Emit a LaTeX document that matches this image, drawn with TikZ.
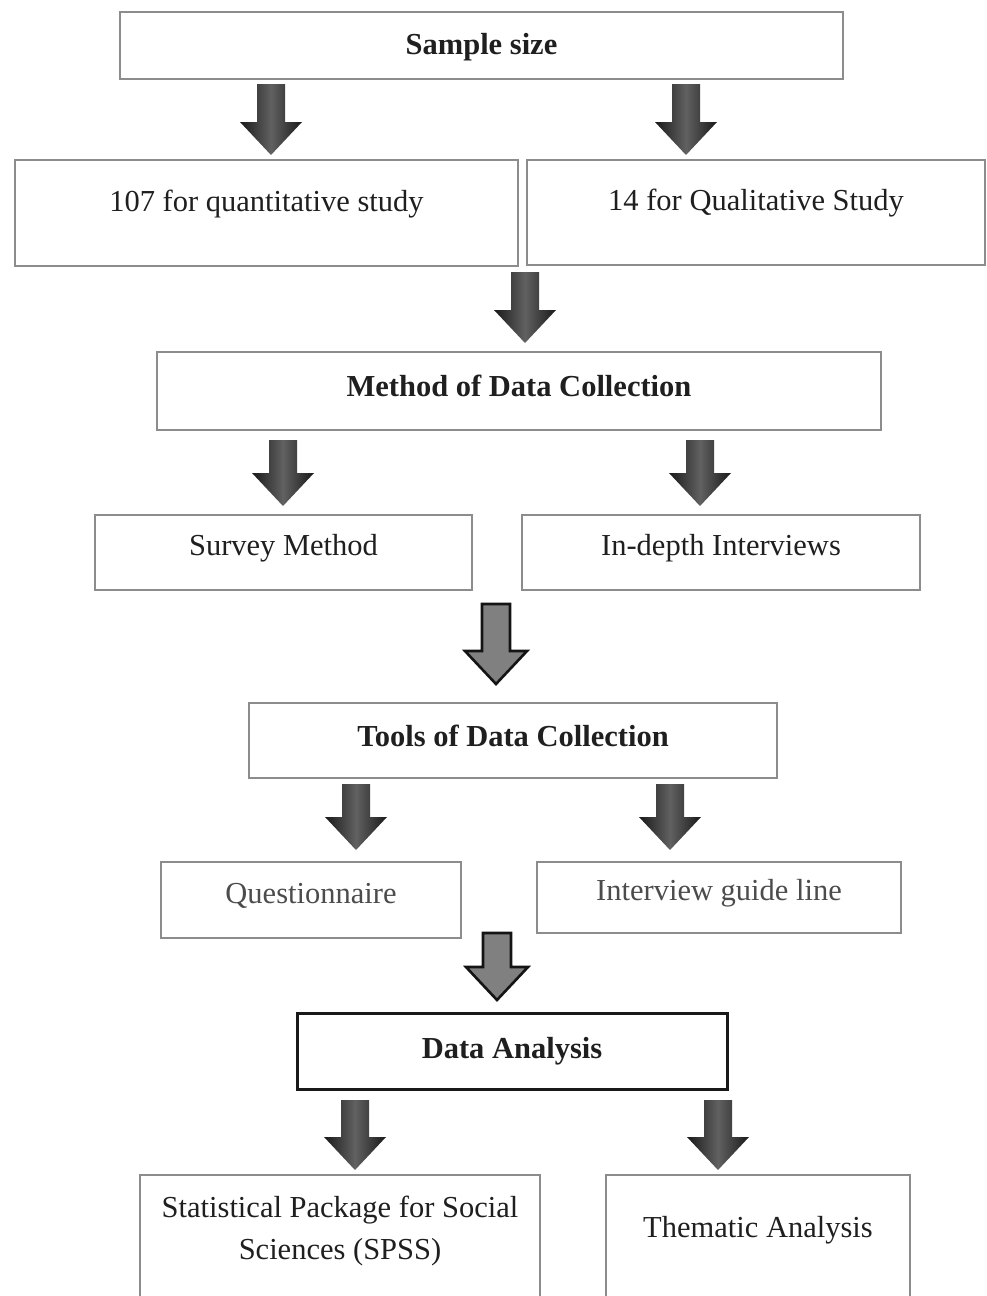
\documentclass[tikz,border=0pt]{standalone}
\usepackage{fontspec}
\setmainfont{Liberation Serif}
\begin{document}
\begin{tikzpicture}[x=1pt,y=-1pt,
  box/.style={draw=black!45, line width=2.2pt, fill=white, text=black!88,
    font=\fontsize{30.5}{42}\selectfont, text height=18pt, text depth=12pt,
    inner sep=0pt, align=center},
  strong/.style={box, draw=black!90, line width=3pt},
  raised/.style={text height=18pt, text depth=22pt},
  lowered/.style={text height=23pt, text depth=12pt},
  dimtext/.style={text=black!70},
  darkarrow/.style={left color=black!90, right color=black!90, middle color=black!62},
  greyarrow/.style={fill=black!50, draw=black!92, line width=2.6pt, line join=miter}
]
\useasboundingbox (0,0) rectangle (987,1296);
\fill[white] (0,0) rectangle (987,1296);

% block arrow pointing down: style, centre x, top y, tip y
\newcommand\downblock[4]{%
  \path[#1] (#2-14,#3) -- (#2+14,#3) -- (#2+14,#4-33) -- (#2+31,#4-33)
    -- (#2,#4) -- (#2-31,#4-33) -- (#2-14,#4-33) -- cycle;}

% boxes
\node[box, text height=30pt, minimum width=723pt, minimum height=67pt] (sample) at (481.5,45.5) {\textbf{Sample size}};
\node[box, raised, minimum width=503pt, minimum height=106pt] (quant) at (266.5,213) {107 for quantitative study};
\node[box, raised, minimum width=458pt, minimum height=105pt] (qual) at (756,212.5) {14 for Qualitative Study};
\node[box, lowered, minimum width=724pt, minimum height=78pt] (method) at (519,391) {\textbf{Method of Data Collection}};
\node[box, minimum width=377pt, minimum height=75pt] (survey) at (283.5,552.5) {Survey Method};
\node[box, minimum width=398pt, minimum height=75pt] (interv) at (721,552.5) {In-depth Interviews};
\node[box, text height=24pt, minimum width=528pt, minimum height=75pt] (tools) at (513,740.5) {\textbf{Tools of Data Collection}};
\node[box, dimtext, minimum width=300pt, minimum height=76pt] (quest) at (311,900) {Questionnaire};
\node[box, dimtext, minimum width=364pt, minimum height=71pt] (guide) at (719,897.5) {Interview guide line};
\node[strong, text height=26pt, minimum width=430pt, minimum height=76pt] (analysis) at (512,1051) {\textbf{Data Analysis}};
\node[box, text height=44pt, text depth=6pt, minimum width=400pt, minimum height=130pt] (spss) at (340,1240) {Statistical Package for Social\\Sciences (SPSS)};
\node[box, text height=36pt, text depth=42pt, minimum width=304pt, minimum height=130pt] (thematic) at (758,1240) {Thematic Analysis};

% arrows between the stages
\downblock{darkarrow}{271}{84}{155}
\downblock{darkarrow}{686}{84}{155}
\downblock{darkarrow}{525}{272}{343}
\downblock{darkarrow}{283}{440}{506}
\downblock{darkarrow}{700}{440}{506}
\downblock{greyarrow}{496}{604}{684}
\downblock{darkarrow}{356}{784}{850}
\downblock{darkarrow}{670}{784}{850}
\downblock{greyarrow}{497}{933}{1000}
\downblock{darkarrow}{355}{1100}{1170}
\downblock{darkarrow}{718}{1100}{1170}
\end{tikzpicture}
\end{document}
